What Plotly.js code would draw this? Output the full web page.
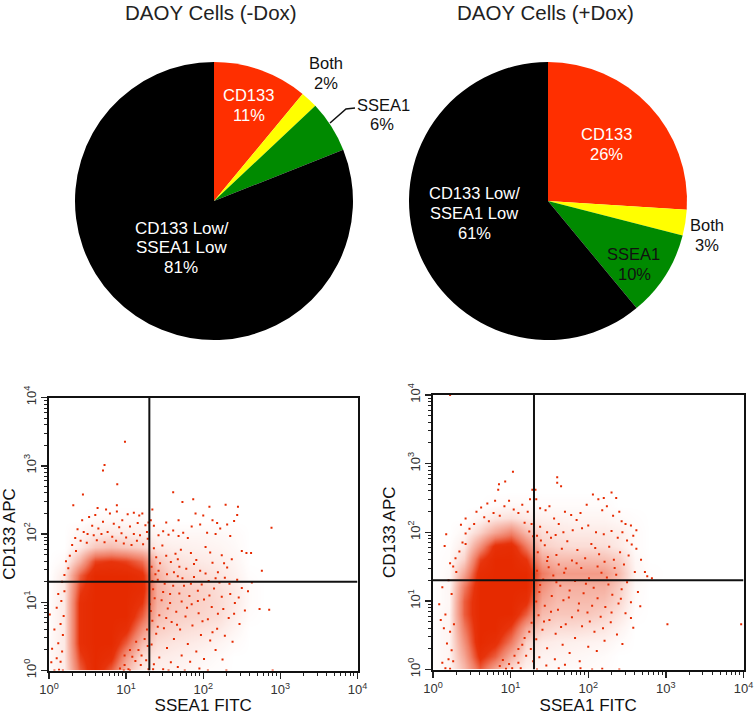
<!DOCTYPE html>
<html><head><meta charset="utf-8">
<script src="https://cdn.plot.ly/plotly-3.0.1.min.js"></script>
<style>html,body{margin:0;padding:0;background:#fff}#c{width:754px;height:715px}</style>
</head><body><div id="c"></div>
<script>
const sliceNames = ['CD133','Both','SSEA1','CD133 Low/SSEA1 Low'];
const sliceColors = ['#ff2f00','#ffff00','#008a00','#000000'];
const pieMinus = [11,2,6,81];
const piePlus = [26,3,10,61];
const gate = 20;
const decadeVals = [1,10,100,1000,10000];
const decadeText = ['10<sup>0</sup>','10<sup>1</sup>','10<sup>2</sup>','10<sup>3</sup>','10<sup>4</sup>'];

// event density, 0 (empty) to 10 (solid), on a grid in decades
const gridLogX = [0,.2,.4,.6,.8,1,1.2,1.4,1.6,1.8,2,2.2,2.4,2.6,2.8,3];
const gridLogY = [0,.2,.4,.6,.8,1,1.2,1.4,1.6,1.8,2,2.2,2.4,2.6];
const leftDensity = [
[.2,.8,7,10,7,3,1,.7,.6,.4,.2,.1,0,0,0,0],
[.2,1,8,10,9,4.5,1.5,1,.8,.6,.4,.2,0,0,0,0],
[.2,1,9,10,10,7,3,1.5,1.2,1,.8,.5,.2,0,0,0],
[.1,1,9,10,10,9,5,2.2,1.8,1.5,1.3,1,.5,0,0,0],
[.1,1,9,10,10,10,7,3,2.2,2,1.8,1.5,.8,.1,0,0],
[.1,1,9,10,10,10,8.5,3.5,2.5,2.2,2,1.6,1,.2,0,0],
[0,1,8,10,10,10,9.5,3.5,2.5,2.2,2,1.5,1,.2,0,0],
[0,1,7,10,10,10,9,3.5,2,1.8,1.5,1.2,.7,.1,0,0],
[0,.3,3.5,8,8.5,8,6.5,2.5,1.5,1.2,1,.8,.5,0,0,0],
[0,0,1,2.5,3,2.5,2,1,.8,.7,.6,.5,.3,0,0,0],
[0,0,.5,1,1.2,1,.8,.5,.4,.4,.4,.3,.2,0,0,0],
[0,0,0,.3,.3,.3,.3,0,0,0,0,0,0,0,0,0],
[0,0,0,0,0,0,0,0,0,0,0,0,0,0,0,0],
[0,0,0,0,0,0,0,0,0,0,0,0,0,0,0,0]];
const rightDensity = [
[.1,.4,3,7,4,1.5,.6,.4,.3,.2,.2,.1,0,0,0,0],
[.1,.5,4,9,7,3.5,1.2,.6,.5,.4,.3,.2,0,0,0,0],
[.1,.5,5,10,9,6,2,1,.8,.7,.6,.5,.2,0,0,0],
[.1,.5,6,10,10,8,4,2,1.6,1.6,1.4,1.2,.6,0,0,0],
[.1,.5,7,10,10,10,7,3,2.5,2.5,2.5,2,1.2,.1,0,0],
[0,.4,7,10,10,10,9,4,3,3,3,2.8,1.8,.2,0,0],
[0,.4,6,10,10,10,10,5,3.5,3.5,3.5,3.5,2.2,.3,0,0],
[0,.3,4,9.5,10,10,10,6,4.5,4.5,4.5,4.5,3,.5,.1,0],
[0,.2,2,8,10,10,8.5,4,3,3,3,2.8,2.2,.4,0,0],
[0,.1,1,5,9,9.5,6,2.2,1.8,1.6,1.6,1.5,1,.2,0,0],
[0,0,.4,2,4,5.5,3,1.5,1.2,1,1,1,.8,.2,0,0],
[0,0,0,.5,1.2,1.5,1,.7,.6,.5,.5,.5,.3,.1,0,0],
[0,0,0,0,.2,.3,.3,.2,.2,.2,.2,.2,0,0,0,0],
[0,0,0,0,0,0,0,0,0,0,0,0,0,0,0,0]];

// individual events, read in decades: [log10 FITC, log10 APC]
const leftDots = [[.985,3.35],[.72,3.01],[.70,2.93],[.885,2.73],[2.885,2.09],[.44,2.58],[.315,2.42],[.88,2.42],[1.61,2.61],[1.87,2.51],[1.73,2.47],[2.08,2.4],[2.45,2.4],[2.29,2.43],[2.855,.89],[2.73,.9],[2.76,1.46],
[.63,2.38],[.74,2.36],[.6,2.28],[.79,2.3],[.88,2.33],[.52,2.25],[.43,2.2],[.95,2.2],[1.02,2.29],[1.1,2.31],[1.17,2.27],[1.21,2.3],[.7,2.18],[.84,2.15],[.56,2.12],[.37,2.07],[.64,2.08],[.91,2.1],[1.05,2.11],[1.15,2.16],[1.25,2.13],[1.29,2.17],[.45,2.03],[.5,2],[.58,1.98],[.68,2],[.76,2.03],[.82,1.96],[.94,2.01],[1,1.95],[1.1,2],[1.18,1.98],[1.27,2.03],[.34,1.94],[.41,1.9],[.49,1.87],[.62,1.91],[.72,1.88],[.87,1.9],[.97,1.86],[1.07,1.84],[1.14,1.9],[1.22,1.85],[1.28,1.93],[.3,1.84],[.35,1.75],[.27,1.68],[.22,1.6],[.25,1.5],[.2,1.4],[.17,1.3],[.2,1.16],[.12,1.12],[.16,1.02],[.1,.92],[.19,.8],[.15,.68],[.07,.6],[.18,.52],[.12,.4],[.04,.32],[.17,.28],[.1,.18],[.01,.82],[.03,.12],[.07,0],[.13,.01],[.18,0],[.15,.13],
[.92,.03],[.98,.08],[1.03,.02],[1.08,.2],[1.12,.14],[1.16,.3],[1.2,.22],[1.24,.46],[1.28,.36],[1.27,.6],[1.05,.3],[.98,.22],[1.13,.42],[1.19,.08],[1.26,.15],[1.29,.02],[.97,0],[1.05,0],
[1.32,2.2],[1.34,2.36],[1.36,2.12],[1.42,1.98],[1.48,2.04],[1.55,1.99],[1.61,2.05],[1.68,1.97],[1.74,2.02],[1.8,1.94],[1.52,2.17],[1.68,2.2],[1.85,2.11],[1.96,2.14],[2.05,2.02],[2.12,2.2],[2.18,2.16],[2.22,2.08],[2.31,2.14],[2.4,2.19],[2.44,2.28],[2,2.27],[1.9,2.3],[2.16,2],[2.35,1.97],[2.5,1.75],[2.56,1.72],[2.62,1.72],
[1.47,1.83],[1.39,1.66],[1.71,1.77],[1.58,1.59],[1.33,1.52],[2.03,1.81],[1.91,1.62],[1.64,1.71],[2.24,1.69],[1.36,1.79],[1.78,1.49],[2.12,1.58],[1.53,1.41],[2.37,1.63],[1.44,1.57],[1.96,1.46],[1.69,1.52],[2.19,1.44],[1.84,1.72],[2.31,1.51],
[1.41,1.33],[1.62,1.44],[1.35,1.19],[1.88,1.37],[1.75,1.24],[2.07,1.31],[1.5,1.27],[2.28,1.36],[1.93,1.17],[1.57,1.12],[2.44,1.33],[1.67,1.38],[2.14,1.2],[1.38,1.41],[1.82,1.09],[2.5,1.21],[1.46,1.03],[2.01,1.04],[2.35,1.12],[1.72,1.01],[2.21,1.29],[1.31,.97],[1.98,1.26],[2.58,1.16],[1.54,.91],[1.85,.97],[2.41,.99],[2.63,1.29],[1.65,.86],[2.11,.93],
[1.43,.81],[2.26,.9],[1.77,.79],[1.34,.73],[1.94,.84],[2.54,.88],[1.59,.71],[2.06,.75],[2.33,.77],[1.49,.62],[1.86,.66],[2.18,.61],[1.7,.6],[2.47,.68],[1.39,.54],[1.97,.52],[2.28,.51],[1.62,.46],[2.09,.44],[1.8,.39],[1.33,.38],[2.38,.42],[1.53,.33],[1.91,.28],[2.16,.3],[1.72,.22],[1.43,.19],[2.01,.17],[1.58,.12],[2.25,.16],[1.36,.09],[1.83,.13],[1.67,.05],[1.48,.02],[1.95,.03],[1.55,0],[1.76,0],[1.35,.02],[2.06,0],[2.3,0],[2.9,0],
[1.52,1.68],[1.67,1.63],[1.88,1.56],[2.09,1.73],[2.27,1.57],[1.42,1.46],[1.73,1.35],[1.61,1.24],[1.34,1.31],[2.03,1.42],[2.16,1.35],[1.84,1.27],[2.34,1.27],[1.48,1.15],[1.69,1.13],[2.24,1.08],[1.93,1.02],[1.37,1.06],[1.57,.99],[2.08,1.1],[2.46,1.07],[1.79,.92],[2.19,.83],[1.32,.87],[1.99,.72],[1.52,.77],[2.4,.83],[1.66,.67],[1.41,.64],[2.12,.56]];

const rightDots = [[1.03,2.88],[1.6,2.8],[.85,2.7],[.93,2.74],[.84,2.62],[1.6,2.72],[1.65,2.67],[.22,4],[3.97,.66],[3.02,.66],
[.42,2.2],[.36,2.11],[.17,1.97],[.42,1.83],[.15,1.8],[.22,1.55],[.12,1.2],[.2,1.3],[.08,.95],[.16,.8],[.1,.72],[.14,.6],[.22,.55],[.18,.38],[.24,.28],[.2,.15],[.12,.1],[.22,.01],[.26,.12],[.16,.02],[.27,.66],[.24,1.1],[.3,1.42],[.26,1.5],[.29,1.62],[.34,1.72],[.38,1.85],[.42,1.98],[.47,2.05],[.53,2.12],[.56,2.3],[.62,2.36],[.7,2.42],[.8,2.46],[.78,2.28],[.66,2.22],[.72,2.16],[.86,2.24],[.92,2.38],[.98,2.46],[1.04,2.33],[1.1,2.28],[1.15,2.4],[1.22,2.3],[1.27,2.12],[1.25,2.48],[1.28,2.62],[1.18,2.14],[1.24,2.01],[1.29,1.94],
[.9,.14],[.98,.08],[1.05,.2],[1.1,.3],[1.15,.36],[1.18,.46],[1.24,.55],[1.27,.68],[.86,.05],[.94,.01],[1.02,.02],[1.1,.1],[1.2,.2],[1.26,.3],[1.29,.12],[1.13,.02],
[1.32,2.62],[1.33,2.48],[1.38,2.35],[1.45,2.32],[1.5,2.38],[1.56,2.2],[1.62,2.12],[1.7,2.3],[1.78,2.25],[1.85,2.18],[1.9,2.28],[1.98,2.4],[2.06,2.55],[2.13,2.48],[2.2,2.5],[2.3,2.58],[2.36,2.5],[2.18,2.32],[2.24,2.38],[2.32,2.24],[2.4,2.3],[2.43,2.16],[2.48,2.12],[2.55,2.1],[2.62,2.03],[2.58,1.95],[2,2.1],[1.92,2.06],[1.8,2.03],[1.68,2],[1.58,1.96],[1.47,2],[1.38,2.08],[1.34,1.95],[2.1,2],[2.2,1.97],[2.3,2.02],[2.38,1.92],[2.44,2],[2.5,1.88],[2.56,1.82],[2.62,1.76],[2.68,1.6],[2.73,1.42],[2.76,1.36],[2.82,1.33],
[1.44,1.81],[1.73,1.87],[1.59,1.67],[2.04,1.83],[1.35,1.71],[1.86,1.74],[2.27,1.79],[1.52,1.92],[2.14,1.68],[1.66,1.76],[2.41,1.71],[1.96,1.62],[1.39,1.88],[2.33,1.6],[1.79,1.59],[2.09,1.77],[1.48,1.64],[2.52,1.66],[2.21,1.57],[1.62,1.53],
[1.34,1.44],[1.91,1.48],[2.46,1.53],[1.55,1.37],[2.17,1.41],[1.71,1.47],[1.42,1.31],[2.01,1.33],[2.36,1.38],[2.6,1.42],[1.83,1.29],[1.49,1.49],[2.26,1.24],[1.64,1.22],[1.37,1.13],[2.07,1.19],[2.5,1.27],[1.94,1.11],[1.76,1.15],[2.43,1.17],[1.53,1.07],[2.31,1.09],[1.33,.99],[2.64,1.13],[1.68,1.01],[2.12,1.04],[1.88,.96],[2.55,.98],[1.44,.93],[2.22,.91],
[1.61,.87],[2.39,.96],[1.99,.83],[1.36,.79],[1.79,.76],[2.67,.92],[2.16,.77],[1.5,.72],[2.48,.82],[1.71,.66],[2.29,.69],[1.41,.58],[1.92,.63],[2.08,.55],[1.58,.52],[2.58,.61],[2.37,.51],[1.83,.46],[1.33,.44],[2.21,.42],[1.67,.36],[1.47,.31],[2,.33],[2.44,.37],[1.76,.24],[1.37,.18],[1.57,.15],[2.11,.27],[1.89,.12],[1.46,.06],[1.7,.07],[1.34,0],[1.62,.02],[1.9,.02],[2.05,0],[2.18,.01],[2.4,0],
[1.47,1.58],[1.69,1.41],[1.85,1.55],[2.12,1.5],[2.34,1.48],[1.38,1.23],[1.59,1.27],[1.97,1.25],[2.24,1.34],[1.75,1.05],[2.05,.93],[2.42,1.03],[1.52,.84],[1.87,.86],[2.3,.83],[2.55,.75],[1.43,.7],[1.65,.62],[2.02,.7],[2.19,.6]];

const col = a => a.map(p => Math.pow(10, p[0]));
const row = a => a.map(p => Math.pow(10, p[1]));
const pow10 = a => a.map(v => Math.pow(10, v));
const red = '#e62a00';
const densityScale = [[0,'rgba(230,42,0,0)'],[.1,'rgba(230,42,0,.1)'],[.3,'rgba(230,42,0,.32)'],[.6,'rgba(230,42,0,.62)'],[.85,'rgba(230,42,0,.96)'],[1,'rgba(230,42,0,1)']];

function flow(xa, ya, density, dots){
  const on = {xaxis:xa, yaxis:ya, hoverinfo:'skip', showlegend:false};
  return [
    Object.assign({type:'heatmap', x:pow10(gridLogX), y:pow10(gridLogY), z:density, zmin:0, zmax:10, zsmooth:'best', colorscale:densityScale, showscale:false}, on),
    Object.assign({type:'scatter', mode:'markers', x:col(dots), y:row(dots),
      marker:{color:red, size:2, symbol:'square', line:{width:0}}}, on),
    Object.assign({type:'scatter', mode:'lines', x:[gate,gate], y:[1,10000], line:{color:'#111', width:2}}, on),
    Object.assign({type:'scatter', mode:'lines', x:[1,10000], y:[gate,gate], line:{color:'#111', width:2}}, on)
  ];
}

const W=754,H=715;
function pie(vals, dom){
  return {type:'pie', values:vals, labels:sliceNames, sort:false, direction:'clockwise', rotation:0,
    marker:{colors:sliceColors, line:{width:0}}, textinfo:'none', hoverinfo:'skip', showlegend:false,
    domain:{x:[dom[0]/W,dom[1]/W], y:[1-dom[3]/H,1-dom[2]/H]}};
}

const data = [pie(pieMinus,[75,353,62,340]), pie(piePlus,[409,687,62,340])]
  .concat(flow('x','y',leftDensity,leftDots))
  .concat(flow('x2','y2',rightDensity,rightDots));

function xAxis(d, anchor, off){
  return {type:'log', range:[0,4], domain:[d[0]/W,d[1]/W], anchor:anchor, showgrid:false, zeroline:false,
    showline:true, mirror:true, linecolor:'#111', linewidth:2, ticks:'outside', ticklen:6, tickwidth:1.5, tickcolor:'#222',
    tickmode:'array', tickvals:decadeVals, ticktext:decadeText, tickfont:{family:'Liberation Sans',size:13,color:'#333'}, tickangle:0,
    minor:{ticks:'outside', ticklen:3, tickwidth:1, tickcolor:'#222', dtick:'D1', showgrid:false},
    title:{text:'SSEA1 FITC', font:{family:'Liberation Sans',size:17,color:'#111'}, standoff:off}};
}
function yAxis(d, anchor, off){
  return {type:'log', range:[0,4], domain:[1-d[1]/H,1-d[0]/H], anchor:anchor, showgrid:false, zeroline:false,
    showline:true, mirror:true, linecolor:'#111', linewidth:2, ticks:'outside', ticklen:6, tickwidth:1.5, tickcolor:'#222',
    tickmode:'array', tickvals:decadeVals, ticktext:decadeText, tickfont:{family:'Liberation Sans',size:13,color:'#333'}, tickangle:-90,
    minor:{ticks:'outside', ticklen:3, tickwidth:1, tickcolor:'#222', dtick:'D1', showgrid:false},
    title:{text:'CD133 APC', font:{family:'Liberation Sans',size:17,color:'#111'}, standoff:off}};
}

const label = (t,x,y,c,s) => ({text:t, x:x/W, y:1-y/H, xref:'paper', yref:'paper', xanchor:'center', yanchor:'middle',
   showarrow:false, align:'center', font:{family:'Liberation Sans', size:s||16.5, color:c||'#111'}});
const annotations = [
  label('DAOY Cells (-Dox)',211,12,'#222',20.5), label('DAOY Cells (+Dox)',545,12,'#222',20.5),
  label('CD133',249,95,'#fff'), label('11%',249,115,'#fff'),
  label('Both',326,63), label('2%',326,83),
  label('SSEA1',383,105), label('6%',382,124),
  label('CD133 Low/',182,228,'#fff',17), label('SSEA1 Low',181,248,'#fff',17), label('81%',181,268,'#fff',17),
  label('CD133',606,134,'#fff'), label('26%',606,154,'#fff'),
  label('Both',707,225), label('3%',707,245),
  label('SSEA1',633,254), label('10%',634,274),
  label('CD133 Low/',474,193,'#fff'), label('SSEA1 Low',474,213,'#fff'), label('61%',474,233,'#fff')
];
const shapes = [{type:'path', xref:'paper', yref:'paper', line:{color:'#111',width:1.5},
  path:'M '+330/W+' '+(1-123/H)+' L '+346/W+' '+(1-109/H)+' L '+355/W+' '+(1-108/H)}];

Plotly.newPlot('c', data, {
  width:W, height:H, margin:{l:0,r:0,t:0,b:0}, paper_bgcolor:'#fff', plot_bgcolor:'#fff', showlegend:false,
  xaxis:xAxis([49,357.5],'y',2), yaxis:yAxis([397.5,670.5],'x',6),
  xaxis2:xAxis([433,743.5],'y2',10), yaxis2:yAxis([395,669.5],'x2',6),
  annotations:annotations, shapes:shapes
}, {displayModeBar:false, staticPlot:true});
</script></body></html>
